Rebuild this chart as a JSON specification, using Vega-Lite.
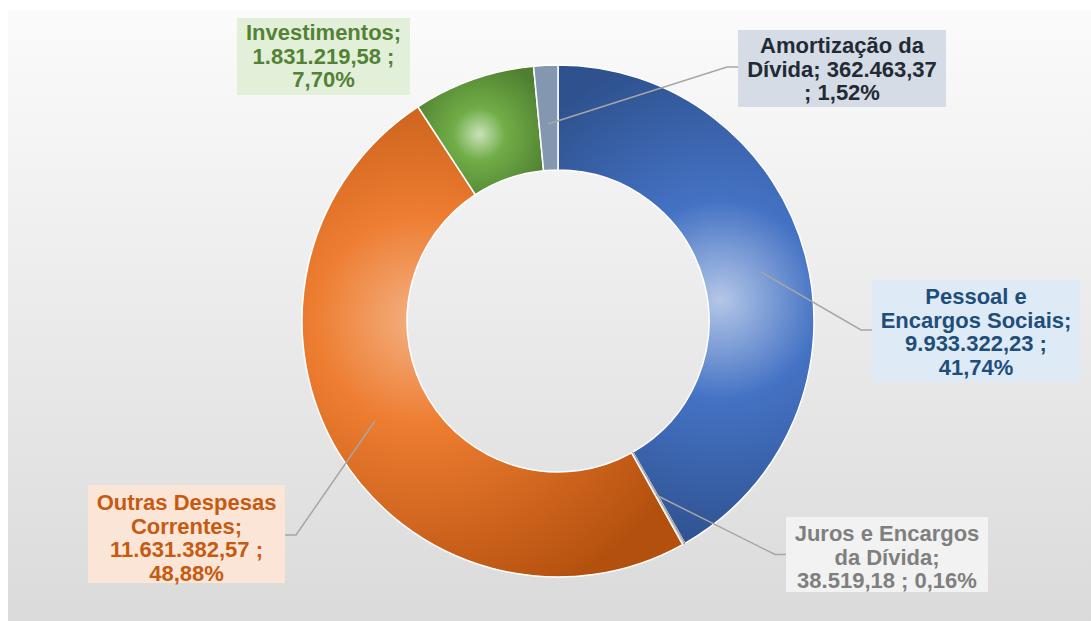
{
  "$schema": "https://vega.github.io/schema/vega-lite/v6.json",
  "width": 1091,
  "height": 621,
  "autosize": {"type": "fit", "contains": "padding"},
  "padding": {"left": 8, "top": 11, "right": -17, "bottom": -10},
  "background": "white",
  "config": {
    "view": {
      "stroke": null,
      "fill": {"gradient": "linear", "x1": 0, "y1": 0, "x2": 0, "y2": 1,
        "stops": [{"offset": 0, "color": "#fbfbfb"}, {"offset": 1, "color": "#dadada"}]}
    }
  },
  "data": {
    "values": [
      {"categoria": "Pessoal e Encargos Sociais", "valor": 9933322.23, "percentual": 41.74, "ordem": 1, "rotulo": ["Pessoal e", "Encargos Sociais;", "9.933.322,23 ;", "41,74%"]},
      {"categoria": "Juros e Encargos da Dívida", "valor": 38519.18, "percentual": 0.16, "ordem": 2, "rotulo": ["Juros e Encargos", "da Dívida;", "38.519,18 ; 0,16%"]},
      {"categoria": "Outras Despesas Correntes", "valor": 11631382.57, "percentual": 48.88, "ordem": 3, "rotulo": ["Outras Despesas", "Correntes;", "11.631.382,57 ;", "48,88%"]},
      {"categoria": "Investimentos", "valor": 1831219.58, "percentual": 7.70, "ordem": 4, "rotulo": ["Investimentos;", "1.831.219,58 ;", "7,70%"]},
      {"categoria": "Amortização da Dívida", "valor": 362463.37, "percentual": 1.52, "ordem": 5, "rotulo": ["Amortização da", "Dívida;  362.463,37", "; 1,52%"]}
    ]
  },
  "layer": [
    {
      "transform": [
        {"stack": "valor", "groupby": [], "sort": [{"field": "ordem", "order": "ascending"}], "as": ["v0", "v1"]},
        {"filter": "datum.categoria === 'Pessoal e Encargos Sociais'"}
      ],
      "mark": {"type": "arc", "innerRadius": 151, "outerRadius": 256, "stroke": "white", "strokeWidth": 1.5,
        "color": {"gradient": "radial", "x1": 0.572, "y1": 0.491, "r1": 0, "x2": 0.572, "y2": 0.491, "r2": 0.52,
          "stops": [{"offset": 0, "color": "#b4c7e7"}, {"offset": 0.4, "color": "#4472c4"}, {"offset": 1, "color": "#2f528f"}]}},
      "encoding": {
        "theta": {"field": "v0", "type": "quantitative", "scale": {"domain": [0, 23796906.93]}},
        "theta2": {"field": "v1"}
      }
    },
    {
      "transform": [
        {"stack": "valor", "groupby": [], "sort": [{"field": "ordem", "order": "ascending"}], "as": ["v0", "v1"]},
        {"filter": "datum.categoria === 'Juros e Encargos da Dívida'"}
      ],
      "mark": {"type": "arc", "innerRadius": 151, "outerRadius": 256, "stroke": "#7f7f7f", "strokeWidth": 0.8, "color": "#c9c9c9"},
      "encoding": {
        "theta": {"field": "v0", "type": "quantitative", "scale": {"domain": [0, 23796906.93]}},
        "theta2": {"field": "v1"}
      }
    },
    {
      "transform": [
        {"stack": "valor", "groupby": [], "sort": [{"field": "ordem", "order": "ascending"}], "as": ["v0", "v1"]},
        {"filter": "datum.categoria === 'Outras Despesas Correntes'"}
      ],
      "mark": {"type": "arc", "innerRadius": 151, "outerRadius": 256, "stroke": "white", "strokeWidth": 1.5,
        "color": {"gradient": "radial", "x1": 0.345, "y1": 0.453, "r1": 0, "x2": 0.345, "y2": 0.453, "r2": 0.64,
          "stops": [{"offset": 0, "color": "#f4b183"}, {"offset": 0.35, "color": "#ed7d31"}, {"offset": 1, "color": "#b4500e"}]}},
      "encoding": {
        "theta": {"field": "v0", "type": "quantitative", "scale": {"domain": [0, 23796906.93]}},
        "theta2": {"field": "v1"}
      }
    },
    {
      "transform": [
        {"stack": "valor", "groupby": [], "sort": [{"field": "ordem", "order": "ascending"}], "as": ["v0", "v1"]},
        {"filter": "datum.categoria === 'Investimentos'"}
      ],
      "mark": {"type": "arc", "innerRadius": 151, "outerRadius": 256, "stroke": "white", "strokeWidth": 1.5,
        "color": {"gradient": "radial", "x1": 0.49, "y1": 0.53, "r1": 0, "x2": 0.49, "y2": 0.53, "r2": 0.58,
          "stops": [{"offset": 0, "color": "#c9e2b9"}, {"offset": 0.35, "color": "#70ad47"}, {"offset": 1, "color": "#4f7f30"}]}},
      "encoding": {
        "theta": {"field": "v0", "type": "quantitative", "scale": {"domain": [0, 23796906.93]}},
        "theta2": {"field": "v1"}
      }
    },
    {
      "transform": [
        {"stack": "valor", "groupby": [], "sort": [{"field": "ordem", "order": "ascending"}], "as": ["v0", "v1"]},
        {"filter": "datum.categoria === 'Amortização da Dívida'"}
      ],
      "mark": {"type": "arc", "innerRadius": 151, "outerRadius": 256, "stroke": "white", "strokeWidth": 1.5, "color": "#8497b0"},
      "encoding": {
        "theta": {"field": "v0", "type": "quantitative", "scale": {"domain": [0, 23796906.93]}},
        "theta2": {"field": "v1"}
      }
    },
    {
      "transform": [{"filter": "datum.categoria !== 'Investimentos'"}],
      "mark": {"type": "point", "filled": false, "size": 4, "color": "#a6a6a6", "strokeWidth": 1.5, "opacity": 1},
      "encoding": {
        "x": {"field": "valor", "type": "quantitative", "axis": null,
          "scale": {"zero": false, "nice": false, "domain": [38519.18, 362463.37, 1831219.58, 9933322.23, 11631382.57], "range": [879, 834, 315.5, 968, 178.5]}},
        "y": {"field": "valor", "type": "quantitative", "axis": null,
          "scale": {"zero": false, "nice": false, "domain": [38519.18, 362463.37, 1831219.58, 9933322.23, 11631382.57], "range": [543.5, 57.5, 45.5, 320, 523]}},
        "shape": {
          "field": "categoria", "type": "nominal", "legend": null,
          "scale": {
            "domain": ["Pessoal e Encargos Sociais", "Juros e Encargos da Dívida", "Outras Despesas Correntes", "Amortização da Dívida"],
            "range": ["M-104,-1L-115,-1L-215,-59", "M-101,0L-112,0L-231,-59.5", "M98.5,1L109.5,1L188.5,-113", "M-104,-1.5L-115,-1.5L-294,55.5"]
          }
        }
      }
    },
    {
      "mark": {"type": "point", "filled": true, "size": 4, "strokeWidth": 0, "opacity": 1},
      "encoding": {
        "x": {"field": "valor", "type": "quantitative", "axis": null,
          "scale": {"zero": false, "nice": false, "domain": [38519.18, 362463.37, 1831219.58, 9933322.23, 11631382.57], "range": [879, 834, 315.5, 968, 178.5]}},
        "y": {"field": "valor", "type": "quantitative", "axis": null,
          "scale": {"zero": false, "nice": false, "domain": [38519.18, 362463.37, 1831219.58, 9933322.23, 11631382.57], "range": [543.5, 57.5, 45.5, 320, 523]}},
        "fill": {
          "field": "categoria", "type": "nominal", "legend": null,
          "scale": {
            "domain": ["Pessoal e Encargos Sociais", "Juros e Encargos da Dívida", "Outras Despesas Correntes", "Investimentos", "Amortização da Dívida"],
            "range": ["#deebf7", "#f2f2f2", "#fbe5d6", "#e2f0d9", "#d6dce5"]
          }
        },
        "shape": {
          "field": "categoria", "type": "nominal", "legend": null,
          "scale": {
            "domain": ["Pessoal e Encargos Sociais", "Juros e Encargos da Dívida", "Outras Despesas Correntes", "Investimentos", "Amortização da Dívida"],
            "range": ["M-104,-51H104V51H-104Z", "M-101,-37.5H101V37.5H-101Z", "M-98.5,-49H98.5V49H-98.5Z", "M-86.5,-38.5H86.5V38.5H-86.5Z", "M-104,-38.5H104V38.5H-104Z"]
          }
        }
      }
    },
    {
      "mark": {"type": "text", "font": "Liberation Sans", "fontWeight": "bold", "fontSize": 22, "lineHeight": 23.7, "align": "center", "baseline": "middle"},
      "encoding": {
        "x": {"field": "valor", "type": "quantitative", "axis": null,
          "scale": {"zero": false, "nice": false, "domain": [38519.18, 362463.37, 1831219.58, 9933322.23, 11631382.57], "range": [879, 834, 315.5, 968, 178.5]}},
        "y": {"field": "valor", "type": "quantitative", "axis": null,
          "scale": {"zero": false, "nice": false, "domain": [38519.18, 362463.37, 1831219.58, 9933322.23, 11631382.57], "range": [523, 35, 22, 286, 492]}},
        "text": {"field": "rotulo", "type": "nominal"},
        "color": {
          "field": "categoria", "type": "nominal", "legend": null,
          "scale": {
            "domain": ["Pessoal e Encargos Sociais", "Juros e Encargos da Dívida", "Outras Despesas Correntes", "Investimentos", "Amortização da Dívida"],
            "range": ["#1f4e79", "#7f7f7f", "#c55a11", "#548235", "#222a35"]
          }
        }
      }
    }
  ],
  "resolve": {"scale": {"y": "independent", "color": "independent", "fill": "independent", "shape": "independent"}}
}
